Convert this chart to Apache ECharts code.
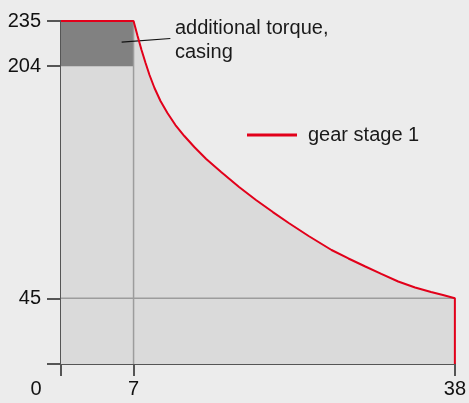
<!DOCTYPE html>
<html>
<head>
<meta charset="utf-8">
<script src="https://cdn.jsdelivr.net/npm/echarts@6/dist/echarts.min.js"></script>
<style>
  html, body { margin: 0; padding: 0; background: #ececec; }
  #chart { width: 469px; height: 403px; }
</style>
</head>
<body>
<div id="chart"></div>
<script>
// torque curve of gear stage 1 (speed, torque)
var curveX = [0, 7, 7.39, 7.77, 8.16, 8.54, 9.02, 9.6, 10.27, 11.04, 11.9, 12.86, 14.01, 15.45, 17.18, 18.81, 20.44, 21.97, 23.89, 26.1, 27.73, 29.36, 30.9, 32.53, 34.16, 35.7, 36.85, 38, 38];
var curveY = [235, 235, 224.7, 215.1, 206.2, 198, 189.1, 180.2, 172, 163.7, 156.2, 148.7, 140.4, 131.5, 121.3, 112.4, 104.1, 96.6, 87.7, 78.1, 72.3, 66.8, 61.7, 56.5, 52.4, 49.3, 47.3, 45, 0];
// additional torque (casing) block: [x0, x1, y0, y1]
var casingBlock = [[0, 7, 204, 235]];
// reference lines: [x0, x1, y0, y1]
var guideLines = [[0, 38, 45, 45], [7, 7, 0, 235]];
var leaderLine = [[5.85, 10.55, 220.5, 223]];
var yTicks = [0, 45, 204, 235];
var yLabels = [45, 204, 235];
var xTicks = [0, 7, 38];

var fontFamily = '"Liberation Sans", Arial, sans-serif';
var curveData = curveX.map(function (x, i) { return [x, curveY[i]]; });

function segmentRenderer(color, width) {
  return function (params, api) {
    var p1 = api.coord([api.value(0), api.value(2)]);
    var p2 = api.coord([api.value(1), api.value(3)]);
    return {
      type: 'line',
      shape: { x1: p1[0], y1: p1[1], x2: p2[0], y2: p2[1] },
      style: { stroke: color, lineWidth: width }
    };
  };
}

var chart = echarts.init(document.getElementById('chart'));
var option = {
  backgroundColor: '#ececec',
  animation: false,
  textStyle: { fontFamily: fontFamily },
  grid: { left: 61, right: 12, top: 21, bottom: 39 },
  legend: {
    data: ['gear stage 1'],
    left: 242,
    top: 120,
    icon: 'rect',
    itemWidth: 50,
    itemHeight: 3,
    textStyle: { fontSize: 20, color: '#1a1a1a', fontFamily: fontFamily, padding: [0, 0, 0, 6] }
  },
  graphic: [{
    type: 'text',
    left: 175,
    top: 16,
    style: {
      text: 'additional torque,\ncasing',
      font: '20px ' + fontFamily,
      fill: '#1a1a1a',
      lineHeight: 24
    }
  }],
  xAxis: {
    type: 'value',
    min: 0,
    max: 38,
    splitLine: { show: false },
    axisLine: { onZero: false, lineStyle: { color: '#555', width: 2 } },
    axisTick: { customValues: xTicks, length: 12, lineStyle: { color: '#555', width: 2 } },
    axisLabel: {
      customValues: xTicks,
      margin: 15,
      fontSize: 20,
      color: '#111',
      formatter: function (v) { return v === 0 ? '{o|0}' : String(v); },
      rich: { o: { fontSize: 20, color: '#111', padding: [0, 50, 0, 0] } }
    }
  },
  yAxis: {
    type: 'value',
    min: 0,
    max: 235,
    splitLine: { show: false },
    axisLine: { show: true, onZero: false, lineStyle: { color: '#555', width: 2 } },
    axisTick: { show: true, customValues: yTicks, length: 14, lineStyle: { color: '#555', width: 2 } },
    axisLabel: { customValues: yLabels, margin: 20, fontSize: 20, color: '#111' }
  },
  series: [
    {
      name: 'fill',
      type: 'line',
      data: curveData,
      symbol: 'none',
      z: 1,
      lineStyle: { width: 0 },
      areaStyle: { color: '#dadada', opacity: 1 },
      silent: true
    },
    {
      name: 'casing',
      type: 'custom',
      data: casingBlock,
      encode: { x: [0, 1], y: [2, 3] },
      z: 2,
      silent: true,
      renderItem: function (params, api) {
        var p1 = api.coord([api.value(0), api.value(3)]);
        var p2 = api.coord([api.value(1), api.value(2)]);
        return {
          type: 'rect',
          shape: { x: p1[0], y: p1[1], width: p2[0] - p1[0], height: p2[1] - p1[1] },
          style: { fill: '#818181' }
        };
      }
    },
    {
      name: 'guides',
      type: 'custom',
      data: guideLines,
      encode: { x: [0, 1], y: [2, 3] },
      z: 3,
      silent: true,
      renderItem: segmentRenderer('#9c9c9c', 1.5)
    },
    {
      name: 'leader',
      type: 'custom',
      data: leaderLine,
      encode: { x: [0, 1], y: [2, 3] },
      z: 3,
      silent: true,
      renderItem: segmentRenderer('#111', 1.2)
    },
    {
      name: 'gear stage 1',
      type: 'line',
      data: curveData,
      symbol: 'none',
      z: 4,
      color: '#e2001a',
      lineStyle: { color: '#e2001a', width: 2 }
    }
  ]
};
chart.setOption(option);
</script>
</body>
</html>
